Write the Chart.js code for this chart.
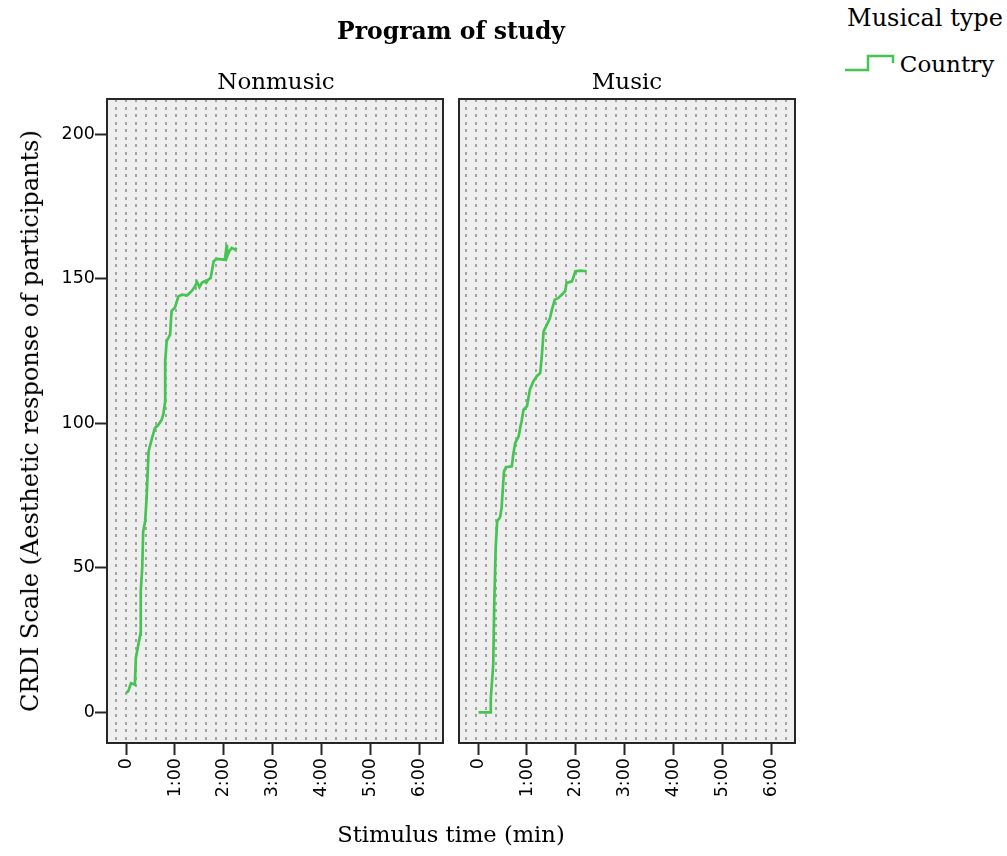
<!DOCTYPE html>
<html>
<head>
<meta charset="utf-8">
<script src="https://cdn.jsdelivr.net/npm/chart.js@4.4.1/dist/chart.umd.min.js"></script>
<style>
  html, body { margin: 0; padding: 0; background: #ffffff; }
  body { width: 1007px; height: 856px; position: relative; overflow: hidden; }
  canvas { position: absolute; top: 0; }
  .lbl { position: absolute; font-family: "DejaVu Serif", serif; color: #000; white-space: nowrap; transform: translate(-50%, -50%); }
</style>
</head>
<body>
<canvas id="c1" width="451" height="856" style="left:0px;width:451px;height:856px"></canvas>
<canvas id="c2" width="352" height="856" style="left:450px;width:352px;height:856px"></canvas>

<div class="lbl" style="left:451px;top:31px;font-size:23.5px;font-weight:bold;">Program of study</div>
<div class="lbl" style="left:276px;top:81px;font-size:23px;">Nonmusic</div>
<div class="lbl" style="left:627px;top:81px;font-size:23px;">Music</div>
<div class="lbl" style="left:451px;top:834px;font-size:22.6px;">Stimulus time (min)</div>
<div class="lbl" style="left:30px;top:421px;font-size:24px;transform:translate(-50%,-50%) rotate(-90deg);">CRDI Scale (Aesthetic response of participants)</div>
<div class="lbl" style="left:925px;top:18px;font-size:24px;">Musical type</div>
<svg style="position:absolute;left:844px;top:53px" width="52" height="20"><polyline points="1,17 24,17 24,3 49,3 49,10" fill="none" stroke="#45c452" stroke-width="2.5"/></svg>
<div class="lbl" style="left:947px;top:64px;font-size:23px;">Country</div>

<script>
// ---- data (time in minutes, CRDI value) ----
const xTickValues = [0, 1, 2, 3, 4, 5, 6];
const xTickLabels = ['0', '1:00', '2:00', '3:00', '4:00', '5:00', '6:00'];
const yTickValues = [0, 50, 100, 150, 200];

const nonmusicTime = [0.01, 0.05, 0.10, 0.18, 0.20, 0.25, 0.29, 0.30, 0.33, 0.35, 0.39, 0.42, 0.46, 0.53, 0.59, 0.66, 0.73, 0.76, 0.80, 0.80, 0.83, 0.90, 0.93, 1.00, 1.07, 1.14, 1.25, 1.34, 1.41, 1.45, 1.50, 1.55, 1.60, 1.64, 1.68, 1.73, 1.79, 1.85, 2.02, 2.06, 2.07, 2.11, 2.16, 2.23, 2.26];
const nonmusicCRDI = [6.7, 7.5, 10.1, 9.6, 18.8, 23.4, 26.9, 41.9, 49.9, 62.6, 66.1, 74.2, 90.3, 94.9, 98.4, 99.5, 101.3, 103.0, 107.6, 121.5, 128.4, 130.7, 138.8, 140.1, 143.9, 144.5, 144.3, 145.7, 147.4, 148.9, 147.1, 148.6, 149.1, 148.6, 149.7, 150.3, 156.1, 156.9, 156.6, 161.8, 157.8, 159.5, 160.7, 160.1, 160.7];

const musicTime = [0.01, 0.25, 0.26, 0.31, 0.33, 0.36, 0.39, 0.45, 0.48, 0.53, 0.57, 0.69, 0.72, 0.76, 0.83, 0.86, 0.89, 0.93, 1.00, 1.06, 1.13, 1.20, 1.27, 1.30, 1.34, 1.41, 1.47, 1.51, 1.57, 1.64, 1.71, 1.78, 1.81, 1.92, 1.99, 2.09, 2.22];
const musicCRDI = [0.0, 0.0, 4.9, 16.5, 37.3, 56.9, 66.1, 67.5, 70.7, 83.4, 84.8, 85.1, 89.2, 93.2, 95.5, 98.4, 100.7, 104.7, 105.9, 111.7, 114.5, 116.3, 117.4, 122.6, 131.8, 134.2, 136.4, 139.3, 142.8, 143.4, 144.5, 145.7, 148.6, 149.1, 152.6, 152.8, 152.6];

const seriesName = 'Country';
const lineColor = '#45c452';

Chart.defaults.font.family = 'DejaVu Sans';
Chart.defaults.font.size = 17.5;
Chart.defaults.color = '#000';

function toPoints(xs, ys) { return xs.map((x, i) => ({ x: x, y: ys[i] })); }

// pattern for plot background
function makePattern(ctx) {
  const p = document.createElement('canvas');
  p.width = 10; p.height = 15;
  const pc = p.getContext('2d');
  pc.fillStyle = '#efefef';
  pc.fillRect(0, 0, 10, 15);
  pc.fillStyle = '#a3a3a3';
  pc.fillRect(5, 2, 2, 3);
  pc.fillRect(5, 9, 2, 3);
  return ctx.createPattern(p, 'repeat');
}

const panelPlugin = {
  id: 'panelBox',
  beforeDatasetsDraw(chart) {
    const { ctx, chartArea: a } = chart;
    ctx.save();
    ctx.fillStyle = makePattern(ctx);
    ctx.fillRect(a.left, a.top, a.right - a.left, a.bottom - a.top);
    ctx.restore();
  },
  afterDatasetsDraw(chart) {
    const { ctx, chartArea: a } = chart;
    ctx.save();
    ctx.strokeStyle = '#262626';
    ctx.lineWidth = 2;
    ctx.strokeRect(a.left, a.top, a.right - a.left, a.bottom - a.top);
    ctx.restore();
  }
};

const X_MIN = -0.39, X_MAX = 6.48;
const Y_MIN = -10.6, Y_MAX = 212.2;

function makeOptions(showY, pad) {
  return {
    responsive: false,
    animation: false,
    layout: { padding: pad },
    plugins: { legend: { display: false }, tooltip: { enabled: false }, title: { display: false } },
    elements: { point: { radius: 0 }, line: { tension: 0 } },
    scales: {
      x: {
        type: 'linear', min: X_MIN, max: X_MAX,
        afterBuildTicks(s) { s.ticks = xTickValues.map(v => ({ value: v })); },
        afterFit(s) { s.height = 113; },
        grid: { drawOnChartArea: false, drawTicks: true, tickLength: 12, tickColor: '#262626', tickWidth: 2 },
        border: { display: false },
        ticks: {
          minRotation: 90, maxRotation: 90, padding: 3,
          color: '#000', font: { family: 'DejaVu Sans', size: 17.5 },
          callback(v) { const i = xTickValues.indexOf(v); return i >= 0 ? xTickLabels[i] : ''; }
        }
      },
      y: {
        display: showY,
        type: 'linear', min: Y_MIN, max: Y_MAX,
        afterBuildTicks(s) { s.ticks = yTickValues.map(v => ({ value: v })); },
        afterFit(s) { if (showY) s.width = 107; else s.width = 0; },
        grid: { drawOnChartArea: false, drawTicks: true, tickLength: 12, tickColor: '#262626', tickWidth: 2 },
        border: { display: false },
        ticks: { padding: 0, color: '#000', font: { family: 'DejaVu Sans', size: 17.5 } }
      }
    }
  };
}

new Chart(document.getElementById('c1'), {
  type: 'line',
  data: { datasets: [{ label: seriesName, data: toPoints(nonmusicTime, nonmusicCRDI), borderColor: lineColor, borderWidth: 2.7, fill: false }] },
  options: makeOptions(true, { top: 99, right: 8, bottom: 0, left: 0 }),
  plugins: [panelPlugin]
});

new Chart(document.getElementById('c2'), {
  type: 'line',
  data: { datasets: [{ label: seriesName, data: toPoints(musicTime, musicCRDI), borderColor: lineColor, borderWidth: 2.7, fill: false }] },
  options: makeOptions(false, { top: 99, right: 7, bottom: 0, left: 9 }),
  plugins: [panelPlugin]
});
</script>
</body>
</html>
